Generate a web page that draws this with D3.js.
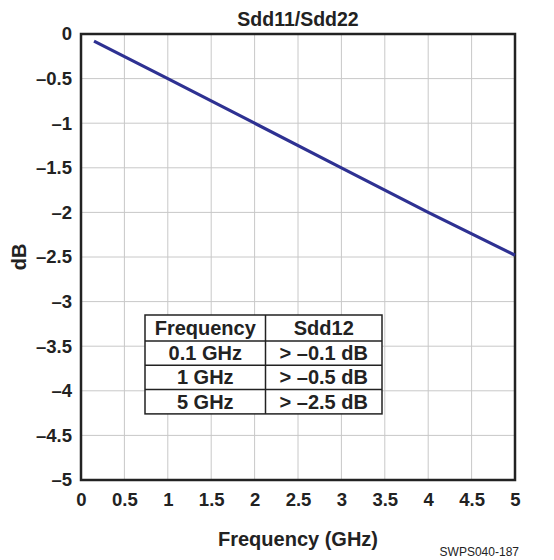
<!DOCTYPE html>
<html>
<head>
<meta charset="utf-8">
<script src="https://cdn.jsdelivr.net/npm/d3@7"></script>
<style>
  body { margin: 0; background: #fff; }
  text { font-family: "Liberation Sans", Arial, sans-serif; fill: #222; }
</style>
</head>
<body>
<div id="chart-area"></div>
<script>
/* DATA */
const freqGHz = [0.15, 1, 2, 3, 4, 5];
const sddDb = [-0.08, -0.5, -1.0, -1.5, -2.0, -2.48];
const xTicks = [0, 0.5, 1, 1.5, 2, 2.5, 3, 3.5, 4, 4.5, 5];
const yTicks = [0, -0.5, -1, -1.5, -2, -2.5, -3, -3.5, -4, -4.5, -5];
const tableHead = ['Frequency', 'Sdd12'];
const tableRows = [
  ['0.1 GHz', '> \u20130.1 dB'],
  ['1 GHz', '> \u20130.5 dB'],
  ['5 GHz', '> \u20132.5 dB']
];

/* CONSTANTS */
const W = 554, H = 560;
const margin = { left: 81, right: 39, top: 34, bottom: 80 };
const width = W - margin.left - margin.right;
const height = H - margin.top - margin.bottom;
const fmt = d => (d === 0 ? '0' : (d < 0 ? '\u2013' : '') + Math.abs(d));

const svg = d3.select('#chart-area').append('svg')
  .attr('width', W).attr('height', H);

const g = svg.append('g')
  .attr('transform', `translate(${margin.left}, ${margin.top})`);

// Scales
const x = d3.scaleLinear().domain([0, 5]).range([0, width]);
const y = d3.scaleLinear().domain([-5, 0]).range([height, 0]);

// grid
g.append('g').selectAll('line').data(xTicks.slice(1, -1)).join('line')
  .attr('x1', d => x(d)).attr('x2', d => x(d))
  .attr('y1', 0).attr('y2', height)
  .attr('stroke', '#c8c8c8').attr('stroke-width', 1);
g.append('g').selectAll('line').data(yTicks.slice(1, -1)).join('line')
  .attr('y1', d => y(d)).attr('y2', d => y(d))
  .attr('x1', 0).attr('x2', width)
  .attr('stroke', '#c8c8c8').attr('stroke-width', 1);

// Axes (labels only, frame drawn separately)
const xAxis = g.append('g')
  .attr('transform', `translate(0, ${height})`)
  .call(d3.axisBottom(x).tickValues(xTicks).tickFormat(fmt).tickSize(0).tickPadding(13));
const yAxis = g.append('g')
  .call(d3.axisLeft(y).tickValues(yTicks).tickFormat(fmt).tickSize(0).tickPadding(9));
[xAxis, yAxis].forEach(a => {
  a.select('.domain').remove();
  a.selectAll('text')
    .style('font-family', '"Liberation Sans", Arial, sans-serif')
    .style('font-size', '18.5px').style('font-weight', 'bold').attr('fill', '#222');
});

// frame
g.append('rect')
  .attr('width', width).attr('height', height)
  .attr('fill', 'none').attr('stroke', '#222').attr('stroke-width', 2.5);

// line
const line = d3.line().x((d, i) => x(freqGHz[i])).y(d => y(d));
g.append('path')
  .datum(sddDb)
  .attr('d', line)
  .attr('fill', 'none')
  .attr('stroke', '#2e3192')
  .attr('stroke-width', 3.2);

// table
const tbl = { x: 64, y: 281, w: 237, colW: 120.5, headH: 26, rowH: 24.3 };
const tg = g.append('g').attr('transform', `translate(${tbl.x}, ${tbl.y})`);
const tblH = tbl.headH + tbl.rowH * tableRows.length;
tg.append('rect').attr('width', tbl.w).attr('height', tblH)
  .attr('fill', '#fff').attr('stroke', '#222').attr('stroke-width', 1.5);
tg.append('line').attr('x1', tbl.colW).attr('x2', tbl.colW)
  .attr('y1', 0).attr('y2', tblH).attr('stroke', '#222').attr('stroke-width', 1.5);
tableRows.forEach((r, i) => {
  tg.append('line').attr('x1', 0).attr('x2', tbl.w)
    .attr('y1', tbl.headH + tbl.rowH * i).attr('y2', tbl.headH + tbl.rowH * i)
    .attr('stroke', '#222').attr('stroke-width', 1.5);
});
const cells = [tableHead].concat(tableRows);
cells.forEach((r, i) => {
  const cy = i === 0 ? tbl.headH / 2 : tbl.headH + tbl.rowH * (i - 0.5);
  r.forEach((t, j) => {
    const cx = j === 0 ? tbl.colW / 2 : tbl.colW + (tbl.w - tbl.colW) / 2;
    tg.append('text')
      .attr('x', cx).attr('y', cy + 7)
      .attr('text-anchor', 'middle')
      .style('font-size', '20px').style('font-weight', 'bold')
      .text(t);
  });
});

// titles
svg.append('text')
  .attr('x', margin.left + width / 2).attr('y', 26)
  .attr('text-anchor', 'middle')
  .style('font-size', '19.5px').style('font-weight', 'bold')
  .text('Sdd11/Sdd22');
svg.append('text')
  .attr('x', margin.left + width / 2).attr('y', 546)
  .attr('text-anchor', 'middle')
  .style('font-size', '20px').style('font-weight', 'bold')
  .text('Frequency (GHz)');
svg.append('text')
  .attr('transform', `translate(26, ${margin.top + y(-2.5)}) rotate(-90)`)
  .attr('text-anchor', 'middle')
  .style('font-size', '20px').style('font-weight', 'bold')
  .text('dB');
svg.append('text')
  .attr('x', 519).attr('y', 556)
  .attr('text-anchor', 'end')
  .style('font-size', '12px')
  .text('SWPS040-187');
</script>
</body>
</html>
